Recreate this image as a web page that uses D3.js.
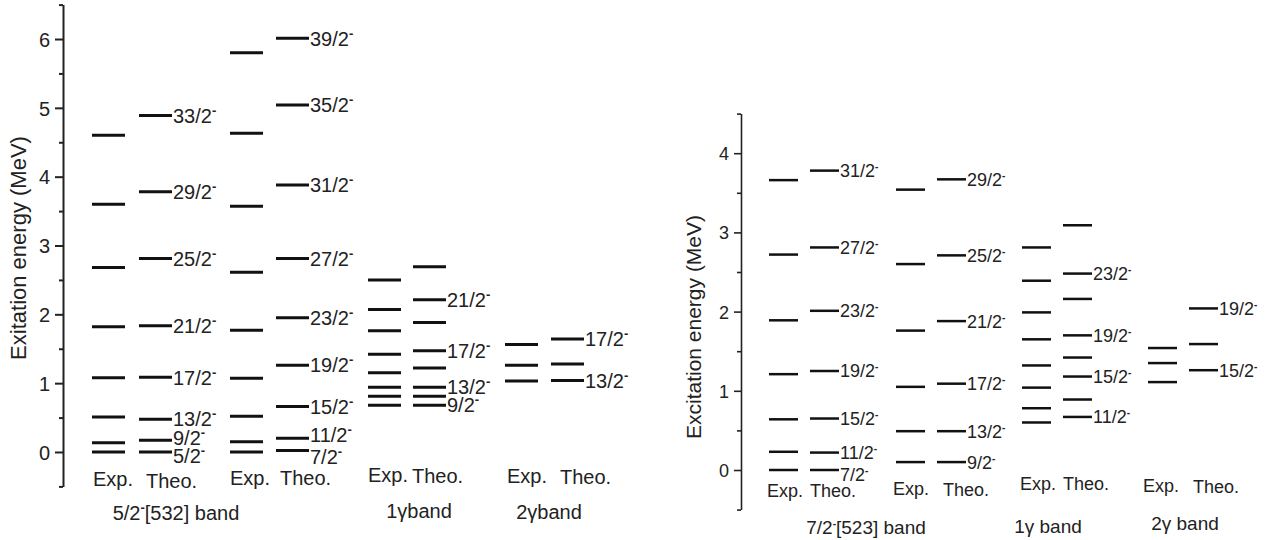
<!DOCTYPE html>
<html>
<head>
<meta charset="utf-8">
<script src="https://cdn.jsdelivr.net/npm/d3@7.9.0/dist/d3.min.js"></script>
<style>
  body { margin: 0; background: #fff; }
  svg { display: block; font-family: "Liberation Sans", Arial, sans-serif; }
  .lvl { stroke: #111; stroke-linecap: butt; }
  .axis path, .axis line { stroke: #222; }
  .axis text { fill: #222; }
</style>
</head>
<body>
<svg id="chart" width="1272" height="540"></svg>
<script>
// ---- left figure: 5/2-[532] band family ----
const leftExpA = [0, 0.135, 0.51, 1.08, 1.82, 2.68, 3.60, 4.60];
const leftTheoA = [0, 0.17, 0.475, 1.085, 1.835, 2.81, 3.78, 4.89];
const leftTheoALabels = ["5/2", "9/2", "13/2", "17/2", "21/2", "25/2", "29/2", "33/2"];
const leftExpB = [0, 0.15, 0.52, 1.07, 1.77, 2.61, 3.57, 4.63, 5.80];
const leftTheoB = [0.02, 0.20, 0.66, 1.26, 1.95, 2.81, 3.88, 5.04, 6.01];
const leftTheoBLabels = ["7/2", "11/2", "15/2", "19/2", "23/2", "27/2", "31/2", "35/2", "39/2"];
const leftExp1g = [0.68, 0.81, 0.94, 1.15, 1.42, 1.76, 2.07, 2.50];
const leftTheo1g = [0.68, 0.81, 0.94, 1.22, 1.47, 1.88, 2.21, 2.69];
const leftTheo1gLabels = ["9/2", "", "13/2", "", "17/2", "", "21/2", ""];
const leftExp2g = [1.03, 1.26, 1.56];
const leftTheo2g = [1.04, 1.28, 1.64];
const leftTheo2gLabels = ["13/2", "", "17/2"];
const leftTicks = [0, 1, 2, 3, 4, 5, 6];

// ---- right figure: 7/2-[523] band family ----
const rightExpA = [0, 0.23, 0.64, 1.21, 1.89, 2.72, 3.66];
const rightTheoA = [0, 0.22, 0.65, 1.25, 2.01, 2.81, 3.78];
const rightTheoALabels = ["7/2", "11/2", "15/2", "19/2", "23/2", "27/2", "31/2"];
const rightExpB = [0.10, 0.49, 1.05, 1.76, 2.60, 3.54];
const rightTheoB = [0.10, 0.49, 1.09, 1.88, 2.71, 3.67];
const rightTheoBLabels = ["9/2", "13/2", "17/2", "21/2", "25/2", "29/2"];
const rightExp1g = [0.60, 0.78, 1.04, 1.32, 1.65, 1.99, 2.39, 2.81];
const rightTheo1g = [0.67, 0.89, 1.18, 1.42, 1.70, 2.16, 2.48, 3.09];
const rightTheo1gLabels = ["11/2", "", "15/2", "", "19/2", "", "23/2", ""];
const rightExp2g = [1.11, 1.35, 1.54];
const rightTheo2g = [1.26, 1.59, 2.04];
const rightTheo2gLabels = ["15/2", "", "19/2"];
const rightTicks = [0, 1, 2, 3, 4];

const svg = d3.select("#chart");

// draw one panel
function drawPanel(cfg) {
    const y = d3.scaleLinear().domain(cfg.domain).range(cfg.range);
    const g = svg.append("g");

    // minor ticks every 0.5
    const minor = d3.range(cfg.domain[0], cfg.domain[1] + 0.001, 0.5)
        .filter(v => !cfg.ticks.includes(v));
    g.append("g")
        .attr("class", "axis")
        .attr("transform", `translate(${cfg.axisX},0)`)
        .call(d3.axisLeft(y).tickValues(minor).tickSize(cfg.minorLen).tickFormat(""))
        .call(a => a.select(".domain").remove())
        .selectAll("line").attr("stroke-width", cfg.axisW);

    const ax = g.append("g")
        .attr("class", "axis")
        .attr("transform", `translate(${cfg.axisX},0)`)
        .call(d3.axisLeft(y).tickValues(cfg.ticks).tickFormat(d3.format("d"))
            .tickSize(cfg.majorLen).tickSizeOuter(0).tickPadding(5));
    ax.select(".domain").attr("stroke-width", cfg.axisW);
    ax.selectAll("line").attr("stroke-width", cfg.axisW);
    ax.selectAll("text").style("font-size", cfg.tickFont + "px").attr("dy", "0.36em");

    g.append("text")
        .attr("transform", `translate(${cfg.titleX},${cfg.titleY}) rotate(-90)`)
        .attr("text-anchor", "middle")
        .attr("dominant-baseline", "central")
        .style("font-size", cfg.titleFont + "px")
        .attr("fill", "#222")
        .text(cfg.title);

    cfg.columns.forEach(col => {
        g.selectAll(null)
            .data(col.values)
            .join("line")
            .attr("class", "lvl")
            .attr("x1", col.x)
            .attr("x2", col.x + cfg.lvlW)
            .attr("y1", d => y(d))
            .attr("y2", d => y(d))
            .attr("stroke-width", cfg.lvlStroke);

        if (col.labels) {
            const shift = col.shift || {};
            const lab = g.selectAll(null)
                .data(col.values.map((v, i) => ({ v, t: col.labels[i], s: shift[i] || 0 })).filter(d => d.t))
                .join("text")
                .attr("x", col.x + cfg.lvlW + 1)
                .attr("y", d => y(d.v) + d.s)
                .attr("dy", "0.36em")
                .style("font-size", cfg.labFont + "px")
                .attr("fill", "#222");
            lab.append("tspan").text(d => d.t);
            lab.append("tspan")
                .attr("dy", cfg.supDy)
                .style("font-size", cfg.supFont + "px")
                .style("font-weight", "bold")
                .text("-");
        }
    });

    cfg.headers.forEach(h => {
        g.append("text")
            .attr("x", h.x).attr("y", h.y)
            .style("font-size", cfg.headFont + "px")
            .attr("fill", "#222")
            .text(h.t);
    });

    cfg.bands.forEach(b => {
        const t = g.append("text")
            .attr("x", b.x).attr("y", b.y)
            .attr("text-anchor", "middle")
            .style("font-size", cfg.bandFont + "px")
            .attr("fill", "#222");
        if (b.sup) {
            t.append("tspan").text(b.pre);
            t.append("tspan").attr("dy", cfg.supDy).style("font-size", cfg.supFont + "px").style("font-weight", "bold").text("-");
            t.append("tspan").attr("dy", -cfg.supDy).text(b.post);
        } else {
            t.text(b.pre);
        }
    });
}

drawPanel({
    domain: [-0.5, 6.5], range: [486.4, 4.6], ticks: leftTicks,
    axisX: 63, axisW: 2, majorLen: 8, minorLen: 4, tickFont: 20,
    title: "Exitation energy (MeV)", titleX: 18, titleY: 248, titleFont: 22,
    lvlW: 33, lvlStroke: 3, labFont: 20, supFont: 13, supDy: -8,
    headFont: 20, bandFont: 20,
    columns: [
        { x: 92, values: leftExpA },
        { x: 139, values: leftTheoA, labels: leftTheoALabels, shift: { 0: 4, 1: -2 } },
        { x: 230, values: leftExpB },
        { x: 276, values: leftTheoB, labels: leftTheoBLabels, shift: { 0: 6, 1: -3 } },
        { x: 368, values: leftExp1g },
        { x: 413, values: leftTheo1g, labels: leftTheo1gLabels },
        { x: 505, values: leftExp2g },
        { x: 551, values: leftTheo2g, labels: leftTheo2gLabels }
    ],
    headers: [
        { t: "Exp.", x: 93, y: 486 }, { t: "Theo.", x: 146, y: 488 },
        { t: "Exp.", x: 230, y: 485 }, { t: "Theo.", x: 280, y: 485 },
        { t: "Exp.", x: 368, y: 482 }, { t: "Theo.", x: 412, y: 483 },
        { t: "Exp.", x: 507, y: 483 }, { t: "Theo.", x: 560, y: 484 }
    ],
    bands: [
        { pre: "5/2", post: "[532] band", sup: true, x: 176, y: 520 },
        { pre: "1\u03b3band", x: 419, y: 518 },
        { pre: "2\u03b3band", x: 549, y: 519 }
    ]
});

drawPanel({
    domain: [-0.5, 4.5], range: [509.6, 113.6], ticks: rightTicks,
    axisX: 741, axisW: 1.6, majorLen: 7, minorLen: 4, tickFont: 18,
    title: "Excitation energy (MeV)", titleX: 693, titleY: 327, titleFont: 21,
    lvlW: 29, lvlStroke: 2.5, labFont: 18, supFont: 10, supDy: -7,
    headFont: 18, bandFont: 19,
    columns: [
        { x: 769, values: rightExpA },
        { x: 810, values: rightTheoA, labels: rightTheoALabels, shift: { 0: 5 } },
        { x: 896, values: rightExpB },
        { x: 937, values: rightTheoB, labels: rightTheoBLabels },
        { x: 1022, values: rightExp1g },
        { x: 1063, values: rightTheo1g, labels: rightTheo1gLabels },
        { x: 1148, values: rightExp2g },
        { x: 1189, values: rightTheo2g, labels: rightTheo2gLabels }
    ],
    headers: [
        { t: "Exp.", x: 767, y: 497 }, { t: "Theo.", x: 810, y: 497 },
        { t: "Exp.", x: 893, y: 495 }, { t: "Theo.", x: 943, y: 496 },
        { t: "Exp.", x: 1020, y: 490 }, { t: "Theo.", x: 1063, y: 490 },
        { t: "Exp.", x: 1143, y: 492 }, { t: "Theo.", x: 1193, y: 493 }
    ],
    bands: [
        { pre: "7/2", post: "[523] band", sup: true, x: 866, y: 534 },
        { pre: "1\u03b3 band", x: 1048, y: 533 },
        { pre: "2\u03b3 band", x: 1185, y: 530 }
    ]
});
</script>
</body>
</html>
